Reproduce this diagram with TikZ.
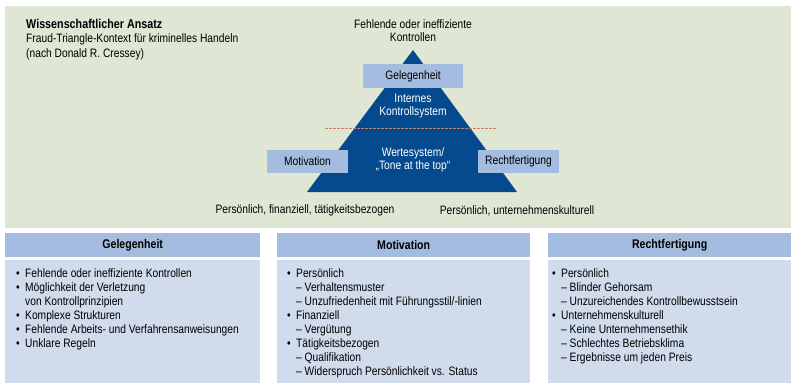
\documentclass[tikz,border=0pt]{standalone}
\usepackage{fontspec}
\setmainfont{Liberation Sans}[FakeStretch=0.84]
\definecolor{bgtop}{HTML}{DFE6D4}
\definecolor{tri}{HTML}{054A8E}
\definecolor{lbox}{HTML}{A4BCDF}
\definecolor{bodyc}{HTML}{D0DBEC}
\definecolor{dashc}{HTML}{E07A55}
\newcommand{\bul}{\makebox[9pt][l]{•}}
\newcommand{\ind}{\hspace*{9pt}}
\tikzset{
  lblbox/.style={fill=lbox, minimum height=23pt, inner sep=0pt, font=\fontsize{12.2}{13}\selectfont},
  plain/.style={font=\fontsize{12.2}{13}\selectfont, inner sep=0pt, align=center},
  whitetxt/.style={plain, text=white},
  head/.style={fill=lbox, minimum height=24pt, inner sep=0pt, anchor=north west, font=\fontsize{12.6}{13}\selectfont\bfseries},
  list/.style={anchor=north west, inner sep=0pt, align=left, font=\fontsize{12.2}{14.1}\selectfont}
}
\begin{document}
\begin{tikzpicture}[x=1pt,y=-1pt]
\useasboundingbox (0,0) rectangle (795,383);
\fill[white] (0,0) rectangle (795,383);
% top panel
\fill[bgtop] (5,6) rectangle (791,228);
\node[anchor=north west, inner sep=0pt, align=left, font=\fontsize{12.2}{14.3}\selectfont] (title) at (26,19)
  {{\fontsize{12.8}{14}\selectfont\bfseries Wissenschaftlicher Ansatz}\\Fraud-Triangle-Kontext für kriminelles Handeln\\(nach Donald R. Cressey)};
% triangle
\coordinate (apex) at (413,50);
\coordinate (bl) at (307,192);
\coordinate (br) at (517,192);
\fill[tri] (apex) -- (br) -- (bl) -- cycle;
\coordinate (dl) at (325,128);
\coordinate (dr) at (496,128);
\draw[dashc, dash pattern=on 2.5pt off 1.5pt, line width=0.6pt] (dl) -- (dr);
\node[plain] (fehl) at (413,31) {Fehlende oder ineffiziente\\Kontrollen};
\node[lblbox, minimum width=100pt, minimum height=24pt] (geleg) at (413,76) {Gelegenheit};
\node[lblbox, minimum width=81pt] (motiv) at (307.5,161.5) {Motivation};
\node[lblbox, minimum width=81pt] (recht) at (518.5,161.5) {Rechtfertigung};
\node[whitetxt] (iks) at (413,106) {Internes\\Kontrollsystem};
\node[whitetxt] (wert) at (413,159.5) {Wertesystem/\\„Tone at the top“};
\node[plain] (pfin) at (305,210.5) {Persönlich, finanziell, tätigkeitsbezogen};
\node[plain] (punt) at (517,210.5) {Persönlich, unternehmenskulturell};
% bottom boxes
\node[head, minimum width=255pt] (h1) at (5,233) {Gelegenheit};
\node[head, minimum width=253pt] (h2) at (277,233) {Motivation};
\node[head, minimum width=243pt] (h3) at (548,233) {Rechtfertigung};
\fill[bodyc] (5,260) rectangle (260,383);
\fill[bodyc] (277,260) rectangle (530,383);
\fill[bodyc] (548,260) rectangle (791,383);
\node[list] (l1) at (16,268) {\bul Fehlende oder ineffiziente Kontrollen\\
\bul Möglichkeit der Verletzung\\
\ind von Kontrollprinzipien\\
\bul Komplexe Strukturen\\
\bul Fehlende Arbeits- und Verfahrensanweisungen\\
\bul Unklare Regeln};
\node[list] (l2) at (287,268) {\bul Persönlich\\
\ind – Verhaltensmuster\\
\ind – Unzufriedenheit mit Führungsstil/-linien\\
\bul Finanziell\\
\ind – Vergütung\\
\bul Tätigkeitsbezogen\\
\ind – Qualifikation\\
\ind – Widerspruch Persönlichkeit vs. Status};
\node[list] (l3) at (552,268) {\bul Persönlich\\
\ind – Blinder Gehorsam\\
\ind – Unzureichendes Kontrollbewusstsein\\
\bul Unternehmenskulturell\\
\ind – Keine Unternehmensethik\\
\ind – Schlechtes Betriebsklima\\
\ind – Ergebnisse um jeden Preis};
\end{tikzpicture}
\end{document}
